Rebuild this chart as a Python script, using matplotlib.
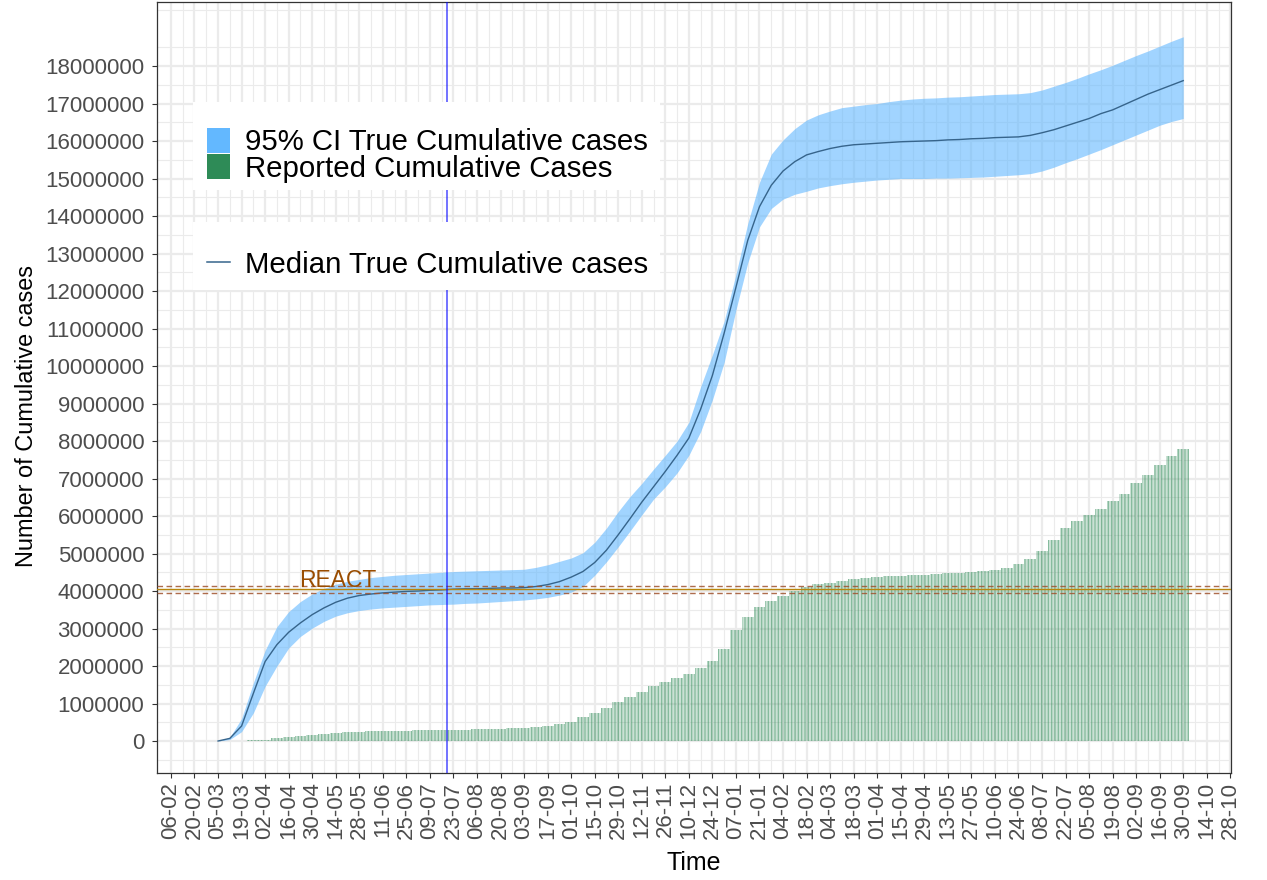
import matplotlib
matplotlib.use("Agg")
import matplotlib.pyplot as plt
import matplotlib.dates as mdates
import numpy as np
import pandas as pd
from matplotlib.patches import Patch, Rectangle
from matplotlib.lines import Line2D

plt.rcParams['font.family'] = ['Liberation Sans', 'DejaVu Sans']
plt.rcParams['hatch.linewidth'] = 0.9

# ---------------- data (values in millions, weekly samples) ----------------
dates = pd.date_range('2020-03-05', '2021-09-30', freq='7D')

median_M = [0.0, 0.07, 0.40, 1.27, 2.12, 2.57, 2.90, 3.15, 3.37, 3.55,
            3.70, 3.81, 3.88, 3.92, 3.95, 3.97, 3.99, 4.00, 4.02, 4.03,
            4.05, 4.06, 4.06, 4.07, 4.08, 4.08, 4.09, 4.12, 4.17, 4.25,
            4.37, 4.52, 4.76, 5.09, 5.50, 5.93, 6.37, 6.78, 7.19, 7.62,
            8.08, 8.85, 9.75, 10.88, 12.10, 13.35, 14.25, 14.82, 15.20, 15.45,
            15.63, 15.72, 15.80, 15.86, 15.90, 15.92, 15.94, 15.96, 15.98, 15.99,
            16.00, 16.01, 16.03, 16.04, 16.06, 16.07, 16.09, 16.10, 16.11, 16.15,
            16.22, 16.30, 16.40, 16.50, 16.60, 16.73, 16.83, 16.97, 17.11, 17.25,
            17.37, 17.49, 17.61]

upper_M = [0.0, 0.10, 0.60, 1.55, 2.42, 3.05, 3.45, 3.72, 3.92, 4.07,
           4.18, 4.26, 4.31, 4.36, 4.39, 4.42, 4.44, 4.46, 4.48, 4.50,
           4.52, 4.53, 4.54, 4.55, 4.56, 4.57, 4.58, 4.63, 4.70, 4.79,
           4.88, 5.02, 5.30, 5.68, 6.12, 6.52, 6.87, 7.25, 7.62, 8.00,
           8.50, 9.45, 10.30, 11.20, 12.45, 13.80, 14.90, 15.65, 16.03, 16.33,
           16.56, 16.70, 16.80, 16.89, 16.93, 16.97, 17.00, 17.05, 17.09, 17.12,
           17.14, 17.15, 17.17, 17.18, 17.20, 17.22, 17.24, 17.25, 17.26, 17.29,
           17.36, 17.46, 17.56, 17.67, 17.79, 17.90, 18.02, 18.15, 18.28, 18.40,
           18.53, 18.66, 18.78]

lower_M = [0.0, 0.04, 0.25, 0.75, 1.46, 2.00, 2.48, 2.79, 3.01, 3.19,
           3.33, 3.42, 3.48, 3.52, 3.55, 3.57, 3.59, 3.61, 3.63, 3.64,
           3.65, 3.67, 3.68, 3.70, 3.72, 3.74, 3.76, 3.79, 3.83, 3.89,
           3.97, 4.12, 4.42, 4.78, 5.18, 5.60, 6.03, 6.45, 6.78, 7.15,
           7.62, 8.25, 9.10, 10.10, 11.50, 12.75, 13.71, 14.20, 14.45, 14.58,
           14.66, 14.75, 14.81, 14.86, 14.90, 14.93, 14.96, 14.98, 15.00, 15.00,
           15.00, 15.01, 15.01, 15.02, 15.03, 15.04, 15.06, 15.08, 15.10, 15.13,
           15.20, 15.30, 15.42, 15.53, 15.65, 15.77, 15.90, 16.03, 16.16, 16.29,
           16.42, 16.52, 16.60]

reported_M = [0.003, 0.005, 0.01, 0.02, 0.04, 0.07, 0.10, 0.13, 0.16, 0.19,
              0.21, 0.23, 0.25, 0.26, 0.27, 0.28, 0.28, 0.29, 0.29, 0.29,
              0.30, 0.30, 0.31, 0.32, 0.33, 0.34, 0.35, 0.37, 0.40, 0.45,
              0.52, 0.63, 0.75, 0.88, 1.03, 1.18, 1.30, 1.46, 1.58, 1.68,
              1.79, 1.94, 2.14, 2.46, 2.95, 3.32, 3.57, 3.74, 3.87, 3.99,
              4.10, 4.18, 4.22, 4.27, 4.31, 4.34, 4.37, 4.39, 4.41, 4.42,
              4.44, 4.45, 4.47, 4.49, 4.51, 4.53, 4.56, 4.62, 4.72, 4.86,
              5.08, 5.35, 5.69, 5.87, 6.02, 6.20, 6.39, 6.60, 6.87, 7.10,
              7.36, 7.60, 7.80]

react_est = 4.06e6
react_low = 3.94e6
react_high = 4.145e6
react_label = 'REACT'
react_label_date = '2020-05-15'
marker_date = '2020-07-19'

tick_dates = pd.date_range('2020-02-06', '2021-10-28', freq='14D')
minor_dates = pd.date_range('2020-02-13', '2021-10-28', freq='14D')
y_ticks = np.arange(0, 18_000_001, 1_000_000)
y_minor = np.arange(-500_000, 19_600_000, 1_000_000)

legend1_labels = ['95% CI True Cumulative cases', 'Reported Cumulative Cases']
legend2_label = 'Median True Cumulative cases'

M = 1e6
median = np.array(median_M) * M
upper = np.array(upper_M) * M
lower = np.array(lower_M) * M
reported = np.array(reported_M) * M

# ---------------- figure ----------------
W, H = 1267, 880
fig = plt.figure(figsize=(W / 100, H / 100), dpi=100)
ax = fig.add_axes([157 / W, 1 - 773 / H, (1231 - 157) / W, (773 - 2) / H])

green = '#2E8B57'
ax.bar(dates, reported, width=7, align='center',
       color=(0.18, 0.545, 0.341, 0.25), edgecolor=(0.18, 0.545, 0.341, 0.45),
       linewidth=0, hatch='|||||', zorder=2)
ax.fill_between(dates, lower, upper, color='#63B8FF', alpha=0.6, linewidth=0, zorder=3)
ax.plot(dates, median, color='#36648B', lw=1.0, zorder=4)

ax.axhline(react_est, color='#B8860B', lw=1.0, zorder=5)
ax.axhline(react_low, color='#A0522D', lw=1.0, ls=(0, (4, 2.5)), alpha=0.85, zorder=5)
ax.axhline(react_high, color='#A0522D', lw=1.0, ls=(0, (4, 2.5)), alpha=0.85, zorder=5)
ax.axvline(pd.Timestamp(marker_date), color='#0000FF', alpha=0.7, lw=1.1, zorder=6)
ax.text(pd.Timestamp(react_label_date), 4.12e6, react_label, color='#994C00',
        fontsize=16.5, ha='center', va='baseline', zorder=7)

# axes limits
x0 = mdates.date2num(pd.Timestamp('2020-02-06')) - 8.3
x1 = mdates.date2num(pd.Timestamp('2021-10-28')) + 0.4
ax.set_xlim(x0, x1)
ax.set_ylim(-0.853e6, 19.707e6)

ax.set_xticks(tick_dates)
ax.xaxis.set_major_formatter(mdates.DateFormatter('%d-%m'))
ax.set_xticks(minor_dates, minor=True)
ax.set_yticks(y_ticks)
ax.set_yticklabels([f'{int(v)}' for v in y_ticks])
ax.set_yticks(y_minor, minor=True)

ax.grid(which='major', color='#EBEBEB', lw=1.6, zorder=0)
ax.grid(which='minor', color='#EBEBEB', lw=0.8, zorder=0)
ax.set_axisbelow(True)

ax.tick_params(axis='both', which='major', length=3.4, width=0.8, color='#333333',
               labelsize=16, labelcolor='#4D4D4D')
ax.tick_params(axis='y', which='major', pad=5.8)
ax.tick_params(axis='x', which='major', pad=3, labelrotation=90)
ax.tick_params(which='minor', length=0)
for lab in ax.get_xticklabels():
    lab.set_va('top')
    lab.set_ha('center')
for s in ax.spines.values():
    s.set_color('#333333')
    s.set_linewidth(0.9)

fig.text(694 / W, 1 - 863 / H, 'Time', fontsize=18, ha='center', va='center')
fig.text(27 / W, 1 - 416 / H, 'Number of Cumulative cases', fontsize=16.9,
         rotation=90, ha='center', va='center')

# legend backgrounds (white boxes, drawn above the plot, below legend text)
def px_rect(left, top, right, bottom):
    return Rectangle((left / W, 1 - bottom / H), (right - left) / W, (bottom - top) / H,
                     transform=fig.transFigure, facecolor='white', edgecolor='none',
                     zorder=9, clip_on=False)

ax.add_patch(px_rect(192.7, 101.7, 660, 190))
ax.add_patch(px_rect(192.7, 221.7, 660, 290))

h1 = [Patch(facecolor='#63B8FF', edgecolor='none'), Patch(facecolor=green, edgecolor='none')]
leg1 = ax.legend(h1, legend1_labels, loc='upper left',
                 bbox_to_anchor=(192.7 / W, 1 - 101.7 / H), bbox_transform=fig.transFigure,
                 borderaxespad=0, borderpad=0.47, fontsize=21.2, handlelength=0.8,
                 handleheight=0.93, handletextpad=0.5, labelspacing=-0.065,
                 title=' ', title_fontsize=10.5, frameon=False)
ax.add_artist(leg1)
h2 = [Line2D([], [], color='#36648B', lw=1.1)]
leg2 = ax.legend(h2, [legend2_label], loc='upper left',
                 bbox_to_anchor=(192.7 / W, 1 - 236.7 / H), bbox_transform=fig.transFigure,
                 borderaxespad=0, borderpad=0.47, fontsize=21.2, handlelength=0.8,
                 handletextpad=0.5, frameon=False)
leg1.set_zorder(10)
leg2.set_zorder(10)

fig.savefig('out.png', dpi=100)
